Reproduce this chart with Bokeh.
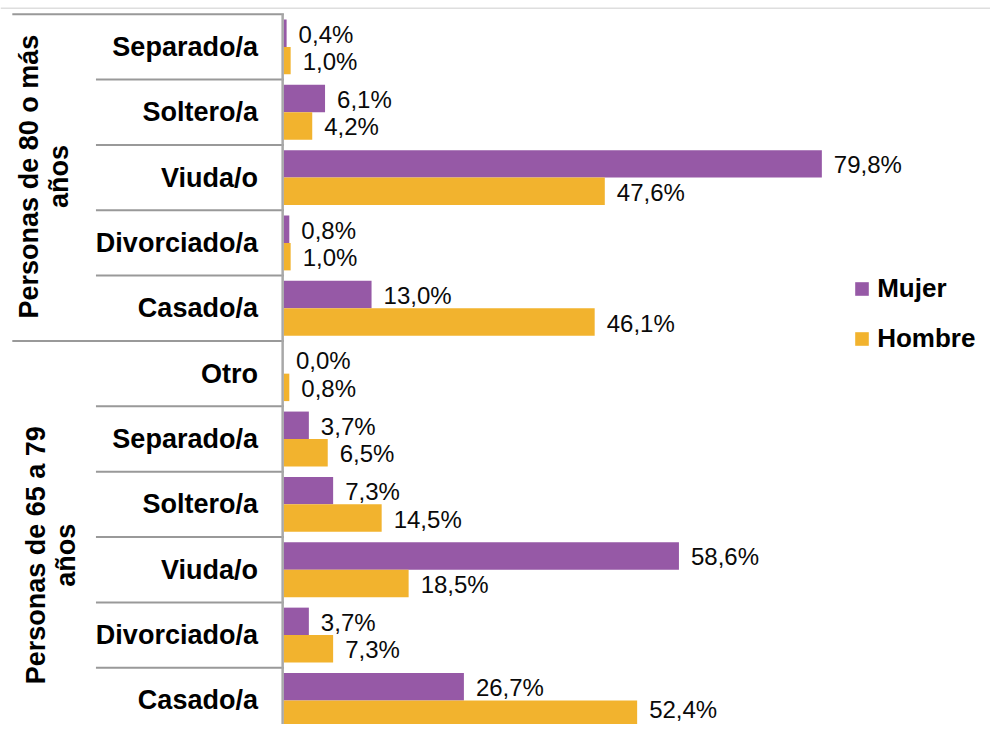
import numpy as np
from bokeh.plotting import figure
from bokeh.models import ColumnDataSource, Range1d, Legend, LegendItem
from bokeh.core.properties import value
from bokeh.embed import file_html
from bokeh.resources import INLINE

# ---------------- data ----------------
groups = ["Personas de 80 o más\naños", "Personas de 65 a 79\naños"]
cats_80 = ["Separado/a", "Soltero/a", "Viuda/o", "Divorciado/a", "Casado/a"]
mujer_80 = [0.4, 6.1, 79.8, 0.8, 13.0]
hombre_80 = [1.0, 4.2, 47.6, 1.0, 46.1]
cats_65 = ["Otro", "Separado/a", "Soltero/a", "Viuda/o", "Divorciado/a", "Casado/a"]
mujer_65 = [0.0, 3.7, 7.3, 58.6, 3.7, 26.7]
hombre_65 = [0.8, 6.5, 14.5, 18.5, 7.3, 52.4]
series = ["Mujer", "Hombre"]

# ---------------- layout constants ----------------
W, H = 990, 724
SX, SY = W / 1006, H / 740          # design grid -> figure pixels
PX = 6.85 * SX                        # pixels per percentage point
ROW = 66.8 * SY                       # pixels per category row
X0 = 288 * SX                         # pixel position of the value axis
Y0 = 14 * SY                          # pixel position of the first row top
VAL_FS = 24

PURPLE = "#9659a6"
ORANGE = "#f2b32e"
LINE = "#999999"
FONT_NAME = "Liberation Sans"
FONT = value(FONT_NAME)

cats = cats_80 + cats_65
mujer = mujer_80 + mujer_65
hombre = hombre_80 + hombre_65
rows = np.arange(len(cats), dtype=float)
fmt = lambda v: f"{v:.1f}%".replace(".", ",")

ym = rows + 0.5 - 0.21
yh = rows + 0.5 + 0.21


def label_offsets(yvals):
    # keep labels slightly below bar centre, but inside the figure
    out = []
    for yv in yvals:
        cpx = Y0 + yv * ROW
        out.append(min(1.0, (H - VAL_FS / 2 - 3) - cpx))
    return out


src = ColumnDataSource(dict(
    cat=cats,
    yc=rows + 0.5,
    ym=ym,
    yh=yh,
    om=label_offsets(ym),
    oh=label_offsets(yh),
    mujer=mujer,
    hombre=hombre,
    lm=[fmt(v) for v in mujer],
    lh=[fmt(v) for v in hombre],
))

p = figure(width=W, height=H, output_backend="svg", toolbar_location=None,
           x_range=Range1d(-X0 / PX, (W - X0) / PX),
           y_range=Range1d((H - Y0) / ROW, -Y0 / ROW),
           min_border=0, outline_line_color=None)
p.axis.visible = False
p.grid.visible = False
p.background_fill_color = "white"
p.border_fill_color = "white"

# helpers: pixel (design grid) -> data
dx = lambda px: (px * SX - X0) / PX
dy = lambda py: (py * SY - Y0) / ROW

# thin grey line at very top
p.segment(x0=[dx(0)], x1=[dx(1006)], y0=[dy(8)], y1=[dy(8)],
          line_color="#dedede", line_width=1.5)

# row separators
sizes = [len(cats_80), len(cats_65)]
starts = set(np.cumsum([0] + sizes[:-1]).tolist())
bounds = np.arange(len(cats), dtype=float)
x0s = [(dx(12) if int(b) in starts else dx(97)) for b in bounds]
p.segment(x0=x0s, x1=[0] * len(bounds), y0=bounds, y1=bounds,
          line_color=LINE, line_width=2)

# vertical axis line
p.segment(x0=[dx(286.7)], x1=[dx(286.7)], y0=[0], y1=[dy(760)],
          line_color="#a8a8a8", line_width=2.5)

# bars
rm = p.hbar(y="ym", left=0, right="mujer", height=0.42, source=src,
            fill_color=PURPLE, line_color=None)
rh = p.hbar(y="yh", left=0, right="hombre", height=0.42, source=src,
            fill_color=ORANGE, line_color=None)

# value labels
for xcol, ycol, tcol, ocol in (("mujer", "ym", "lm", "om"), ("hombre", "yh", "lh", "oh")):
    p.text(x=xcol, y=ycol, text=tcol, source=src, x_offset=12, y_offset=ocol,
           text_align="left", text_baseline="middle", text_font=FONT,
           text_font_size=f"{VAL_FS}px", text_color="#0a0a0a")

# category labels
p.text(x=0, y="yc", text="cat", source=src, x_offset=-26,
       text_align="right", text_baseline="middle", text_font=FONT,
       text_font_style="bold", text_font_size="27px", text_color="#000000")

# group labels (rotated)
gx = [dx(44), dx(51)]
gy = [dy(180), dy(567)]
p.text(x=gx, y=gy, text=groups, angle=np.pi / 2,
       text_align="center", text_baseline="middle", text_font=FONT,
       text_font_style="bold", text_font_size="27px", text_line_height=1.0,
       text_color="#000000")

# legend
glyph_top = 288 * SY
pitch = 50 * SY
item_h = 30
leg_top = glyph_top - (item_h - 17) / 2
leg_h = item_h + pitch
legend = Legend(items=[LegendItem(label=series[0], renderers=[rm]),
                       LegendItem(label=series[1], renderers=[rh])],
                location=(867 * SX, H - (leg_top + leg_h)), orientation="vertical",
                glyph_width=17, glyph_height=17, label_height=item_h,
                label_standoff=7, spacing=int(round(pitch - item_h)), padding=0, margin=0,
                border_line_color=None, background_fill_alpha=0,
                label_text_font=FONT_NAME, label_text_font_style="bold",
                label_text_font_size="26px", label_text_color="#000000")
p.add_layout(legend)

open("out.html", "w").write(file_html(p, INLINE))
